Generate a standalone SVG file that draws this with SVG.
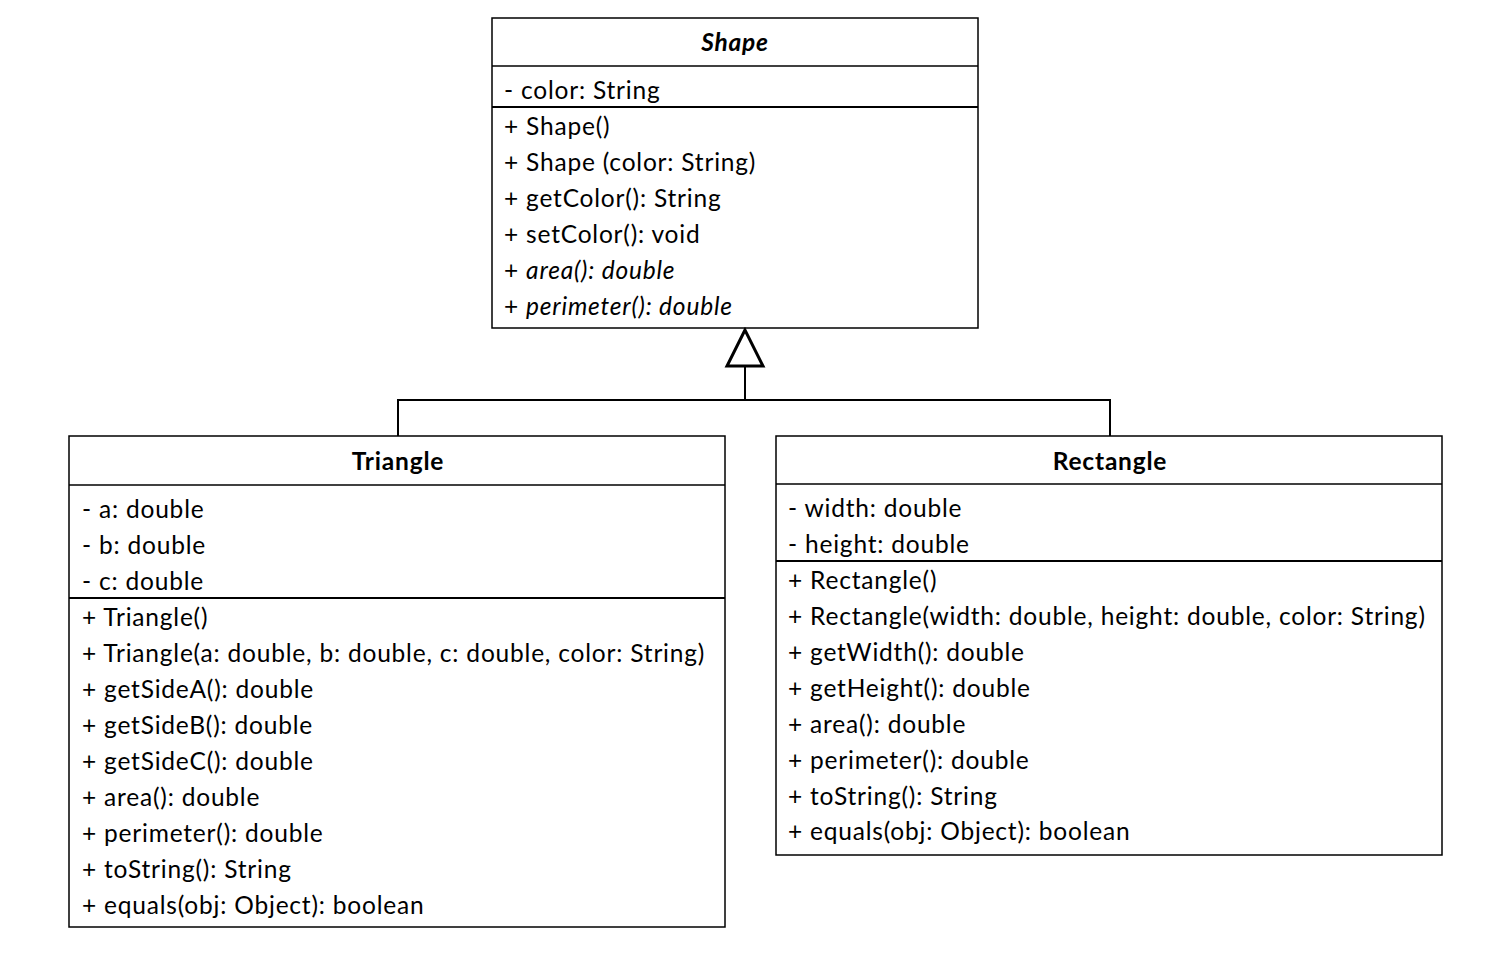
<svg xmlns="http://www.w3.org/2000/svg" width="1496" height="964" viewBox="0 0 1496 964">
<style>
.box{fill:#fff;stroke:#000;stroke-width:1.5}
.sep{stroke:#000;stroke-width:1.5}
.sep2{stroke:#000;stroke-width:2.2}
text{font-family:Lato,"Open Sans",sans-serif;font-size:24.5px;letter-spacing:0.8px;fill:#000}
.t{font-weight:bold;text-anchor:middle}
.i{font-style:italic}
.conn{fill:none;stroke:#000;stroke-width:2}
</style>
<rect width="1496" height="964" fill="#fff"/>
<g id="Shape">
<rect class="box" x="492" y="18" width="486" height="310"/>
<line class="sep" x1="492" y1="66" x2="978" y2="66"/>
<line class="sep2" x1="492" y1="107" x2="978" y2="107"/>
<text class="t i" x="735" y="51">Shape</text>
<text x="504" y="99">- color: String</text>
<text x="504" y="135">+ Shape()</text>
<text x="504" y="171">+ Shape (color: String)</text>
<text x="504" y="207">+ getColor(): String</text>
<text x="504" y="243">+ setColor(): void</text>
<text x="504" y="279">+ <tspan class="i">area(): double</tspan></text>
<text x="504" y="315">+ <tspan class="i">perimeter(): double</tspan></text>
</g>
<g id="Triangle">
<rect class="box" x="69" y="436" width="656" height="491"/>
<line class="sep" x1="69" y1="485" x2="725" y2="485"/>
<line class="sep2" x1="69" y1="598" x2="725" y2="598"/>
<text class="t" x="398" y="470">Triangle</text>
<text x="82" y="518">- a: double</text>
<text x="82" y="554">- b: double</text>
<text x="82" y="590">- c: double</text>
<text x="82" y="626">+ Triangle()</text>
<text x="82" y="662">+ Triangle(a: double, b: double, c: double, color: String)</text>
<text x="82" y="698">+ getSideA(): double</text>
<text x="82" y="734">+ getSideB(): double</text>
<text x="82" y="770">+ getSideC(): double</text>
<text x="82" y="806">+ area(): double</text>
<text x="82" y="842">+ perimeter(): double</text>
<text x="82" y="878">+ toString(): String</text>
<text x="82" y="914">+ equals(obj: Object): boolean</text>
</g>
<g id="Rectangle">
<rect class="box" x="776" y="436" width="666" height="419"/>
<line class="sep" x1="776" y1="484" x2="1442" y2="484"/>
<line class="sep2" x1="776" y1="561" x2="1442" y2="561"/>
<text class="t" x="1110" y="470">Rectangle</text>
<text x="788" y="517">- width: double</text>
<text x="788" y="553">- height: double</text>
<text x="788" y="589">+ Rectangle()</text>
<text x="788" y="625">+ Rectangle(width: double, height: double, color: String)</text>
<text x="788" y="661">+ getWidth(): double</text>
<text x="788" y="697">+ getHeight(): double</text>
<text x="788" y="733">+ area(): double</text>
<text x="788" y="769">+ perimeter(): double</text>
<text x="788" y="805">+ toString(): String</text>
<text x="788" y="840">+ equals(obj: Object): boolean</text>
</g>
<g id="connectors">
<polyline class="conn" points="398,436 398,400 1110,400 1110,436"/>
<line class="conn" x1="745" y1="400" x2="745" y2="366"/>
<polygon points="745,330 727,366 763,366" fill="#fff" stroke="#000" stroke-width="3"/>
</g>
</svg>
